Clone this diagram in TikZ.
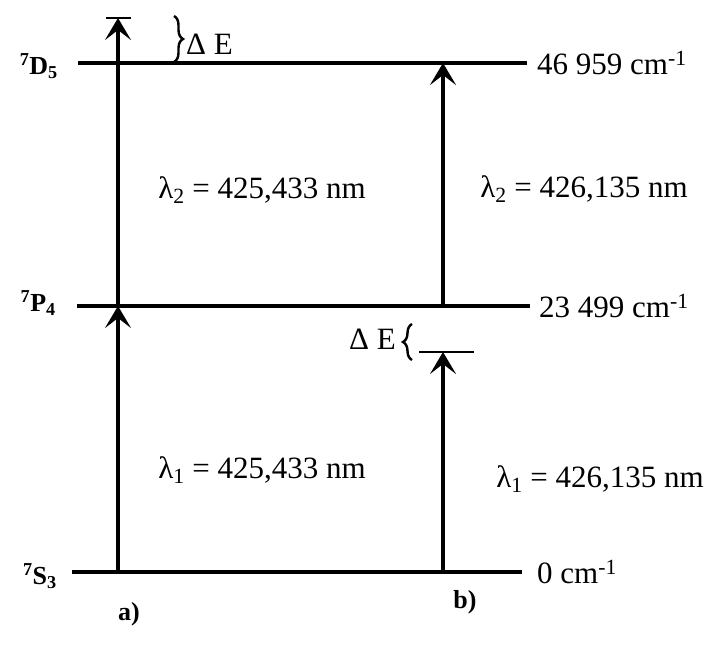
\documentclass[tikz,border=0pt]{standalone}
\usepackage{fontspec}
\setmainfont{Liberation Serif}
\usetikzlibrary{arrows.meta,decorations.pathreplacing}

\begin{document}
\begin{tikzpicture}[x=1pt, y=-1pt,
  every node/.style={font=\fontsize{31}{36}\selectfont, inner sep=0pt},
  level/.style={line width=4.2pt},
  trans/.style={line width=3.2pt, -{Stealth[length=22pt, width=26pt, inset=10pt]}},
  bar/.style={line width=2.8pt},
  gap/.style={line width=2.4pt, decorate, decoration={brace, amplitude=9pt}},
  term/.style={font=\bfseries\fontsize{26}{30}\selectfont},
  tag/.style={font=\bfseries\fontsize{26}{30}\selectfont}]
  \useasboundingbox (0,0) rectangle (716,648);

  % energy levels
  \coordinate (d5l) at (78,63);  \coordinate (d5r) at (527,63);
  \coordinate (p4l) at (77,306); \coordinate (p4r) at (530,306);
  \coordinate (s3l) at (72,572); \coordinate (s3r) at (522,572);
  \draw[level] (d5l) -- (d5r);
  \draw[level] (p4l) -- (p4r);
  \draw[level] (s3l) -- (s3r);

  \node[term, anchor=east] (d5) at (58,66) {\textsuperscript{7}D\textsubscript{5}};
  \node[term, anchor=east] (p4) at (56,303) {\textsuperscript{7}P\textsubscript{4}};
  \node[term, anchor=east] (s3) at (57,576) {\textsuperscript{7}S\textsubscript{3}};

  \node[anchor=west] (e2) at (537,63) {46 959 cm\textsuperscript{-1}};
  \node[anchor=west] (e1) at (539,306) {23 499 cm\textsuperscript{-1}};
  \node[anchor=west] (e0) at (537,572) {0 cm\textsuperscript{-1}};

  % scheme a)
  \coordinate (a0) at (118,572);
  \coordinate (a1) at (118,306);
  \coordinate (a2) at (118,18);
  \draw[trans] (a0) -- (a1);
  \draw[trans] (a1) -- (a2);
  \draw[bar] (106,18) -- (131,18);
  \draw[gap] (174,16) -- (174,62);
  \node[anchor=west] (dEa) at (186,44) {Δ E};

  \node (l1a) at (262,470) {λ\textsubscript{1} = 425,433 nm};
  \node (l2a) at (262,190) {λ\textsubscript{2} = 425,433 nm};
  \node[tag] (ta) at (129,614) {a)};

  % scheme b)
  \coordinate (b0) at (443,572);
  \coordinate (b1) at (443,352);
  \coordinate (b2) at (443,306);
  \coordinate (b3) at (443,63);
  \draw[trans] (b0) -- (b1);
  \draw[bar] (419,352) -- (474,352);
  \draw[trans] (b2) -- (b3);
  \draw[gap] (412,360) -- (412,324);
  \node[anchor=east] (dEb) at (396,339) {Δ E};

  \node (l1b) at (600,479) {λ\textsubscript{1} = 426,135 nm};
  \node (l2b) at (584,189) {λ\textsubscript{2} = 426,135 nm};
  \node[tag] (tb) at (465,602) {b)};
\end{tikzpicture}
\end{document}
